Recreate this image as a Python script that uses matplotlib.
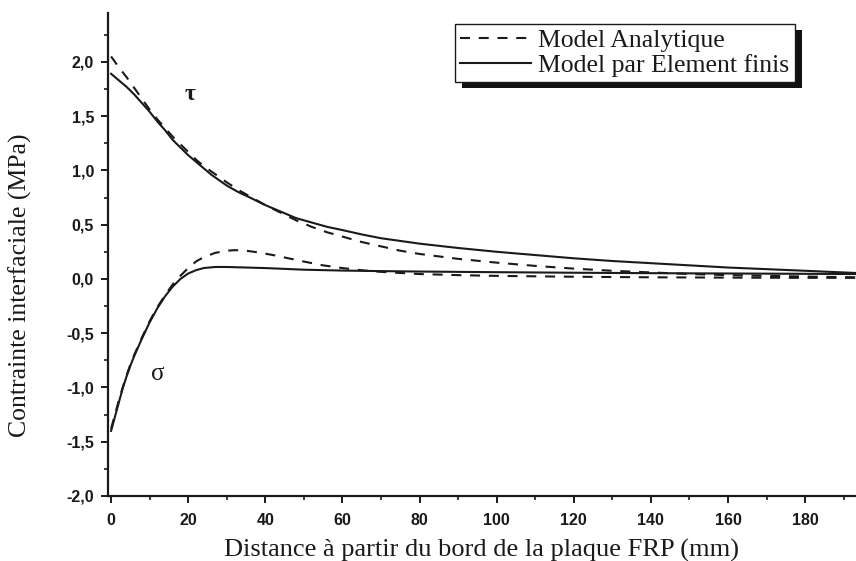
import matplotlib
matplotlib.use("Agg")
import matplotlib.pyplot as plt
from matplotlib.patches import Rectangle
from matplotlib.transforms import IdentityTransform
from matplotlib.ticker import FixedLocator, FixedFormatter, MultipleLocator

# Shear stress tau along the plate (MPa)
tau_x = [0, 2, 4, 6, 8, 10, 12, 14, 16, 18, 20, 22, 24, 26, 28, 30, 33, 36, 40, 44,
         48, 52, 56, 60, 65, 70, 75, 80, 90, 100, 110, 120, 130, 140, 150, 160, 170, 180, 193]
tau_fe = [1.89, 1.83, 1.77, 1.70, 1.62, 1.54, 1.45, 1.37, 1.28, 1.21, 1.14, 1.08, 1.02, 0.96,
          0.91, 0.86, 0.80, 0.75, 0.68, 0.62, 0.56, 0.52, 0.48, 0.45, 0.41, 0.375, 0.35, 0.325,
          0.285, 0.25, 0.22, 0.19, 0.165, 0.145, 0.125, 0.105, 0.09, 0.075, 0.055]
tau_an = [2.05, 1.95, 1.86, 1.76, 1.66, 1.56, 1.47, 1.39, 1.31, 1.24, 1.17, 1.10, 1.04, 0.99,
          0.94, 0.89, 0.82, 0.76, 0.68, 0.61, 0.54, 0.48, 0.43, 0.39, 0.34, 0.30, 0.26, 0.23,
          0.185, 0.15, 0.12, 0.095, 0.075, 0.06, 0.045, 0.035, 0.028, 0.022, 0.015]

# Normal stress sigma along the plate (MPa)
sig_fe_x = [0, 1, 2, 3, 4, 5, 6, 8, 10, 12, 14, 16, 18, 20, 22, 24, 27, 30, 35, 40,
            50, 60, 70, 80, 100, 120, 140, 160, 180, 193]
sig_fe = [-1.40, -1.27, -1.14, -1.01, -0.90, -0.80, -0.71, -0.55, -0.40, -0.27, -0.16, -0.07,
          0.00, 0.05, 0.08, 0.10, 0.11, 0.11, 0.105, 0.10, 0.085, 0.077, 0.072, 0.068, 0.062,
          0.057, 0.053, 0.05, 0.047, 0.045]
sig_an_x = [0, 1, 2, 3, 4, 5, 6, 8, 10, 12, 14, 16, 18, 20, 22, 24, 27, 30, 32, 35, 38,
            42, 46, 50, 55, 60, 65, 70, 80, 90, 100, 120, 140, 160, 180, 193]
sig_an = [-1.38, -1.25, -1.12, -1.00, -0.89, -0.79, -0.70, -0.54, -0.39, -0.26, -0.15, -0.05,
          0.03, 0.10, 0.16, 0.20, 0.24, 0.26, 0.265, 0.26, 0.245, 0.22, 0.19, 0.16, 0.125, 0.10,
          0.08, 0.065, 0.045, 0.035, 0.028, 0.02, 0.015, 0.012, 0.01, 0.01]

x_ticks = [0, 20, 40, 60, 80, 100, 120, 140, 160, 180]
x_tick_labels = ["0", "20", "40", "60", "80", "100", "120", "140", "160", "180"]
y_ticks = [-2.0, -1.5, -1.0, -0.5, 0.0, 0.5, 1.0, 1.5, 2.0]
y_tick_labels = ["-2,0", "-1,5", "-1,0", "-0,5", "0,0", "0,5", "1,0", "1,5", "2,0"]

serif = ["Liberation Serif", "DejaVu Serif"]
sans = ["Liberation Sans", "DejaVu Sans"]
ink = "#1a1a1a"

W, H = 856, 561
fig = plt.figure(figsize=(W / 100, H / 100), dpi=100)
ax = fig.add_axes([108 / W, (H - 496) / H, (W - 108) / W, (496 - 13) / H])

dash = (0, (4.8, 4.2))
ax.plot(tau_x, tau_an, color=ink, lw=1.5, linestyle=dash)
ax.plot(tau_x, tau_fe, color=ink, lw=1.5)
ax.plot(sig_an_x, sig_an, color=ink, lw=1.5, linestyle=dash)
ax.plot(sig_fe_x, sig_fe, color=ink, lw=1.5)

ax.set_xlim(-0.8, 193.2)
ax.set_ylim(-2.0, 2.45)

for side in ("top", "right"):
    ax.spines[side].set_visible(False)
for side in ("left", "bottom"):
    ax.spines[side].set_linewidth(1.6)
    ax.spines[side].set_color(ink)

ax.xaxis.set_major_locator(FixedLocator(x_ticks))
ax.xaxis.set_major_formatter(FixedFormatter(x_tick_labels))
ax.xaxis.set_minor_locator(MultipleLocator(10))
ax.yaxis.set_major_locator(FixedLocator(y_ticks))
ax.yaxis.set_major_formatter(FixedFormatter(y_tick_labels))
ax.yaxis.set_minor_locator(MultipleLocator(0.25))
ax.tick_params(which="major", direction="out", length=5, width=1.4, color=ink,
               labelsize=11.5, labelcolor=ink)
ax.tick_params(axis="x", which="major", pad=7)
ax.tick_params(axis="y", which="major", pad=5)
ax.tick_params(which="minor", direction="out", length=3, width=1.2, color=ink)
for lab in ax.get_xticklabels() + ax.get_yticklabels():
    lab.set_family(sans)
    lab.set_fontweight("bold")

ax.set_xlabel("Distance à partir du bord de la plaque FRP (mm)", family=serif,
              fontsize=19, color=ink)
ax.set_ylabel("Contrainte interfaciale (MPa)", family=serif, fontsize=18.5, color=ink)
ax.xaxis.set_label_coords(0.5, -0.088)
ax.yaxis.set_label_coords(-0.102, 0.437)

ax.text(20.5, 1.70, "τ", family=serif, fontsize=17, ha="center", va="center",
        color=ink, fontweight="bold")
ax.text(12.2, -0.88, "σ", family=serif, fontsize=18, ha="center", va="center",
        color=ink)

leg = ax.legend(["Model Analytique", "Model par Element finis"],
                loc="upper right", bbox_to_anchor=(0.918, 0.977),
                prop={"family": serif, "size": 18.5}, frameon=True, fancybox=False,
                edgecolor=ink, framealpha=1, borderpad=0.2, labelspacing=0.05,
                handlelength=2.75, handletextpad=0.3, borderaxespad=0)
leg.get_frame().set_linewidth(1.0)
leg.set_zorder(6)
for t in leg.get_texts():
    t.set_color(ink)

fig.canvas.draw()
bb = leg.get_window_extent()
shadow = Rectangle((bb.x0 + 7, bb.y0 - 6), bb.width, bb.height,
                   transform=IdentityTransform(), facecolor="#111111",
                   edgecolor="none", zorder=5.5, clip_on=False)
ax.add_artist(shadow)

fig.savefig("out.png", dpi=100)
